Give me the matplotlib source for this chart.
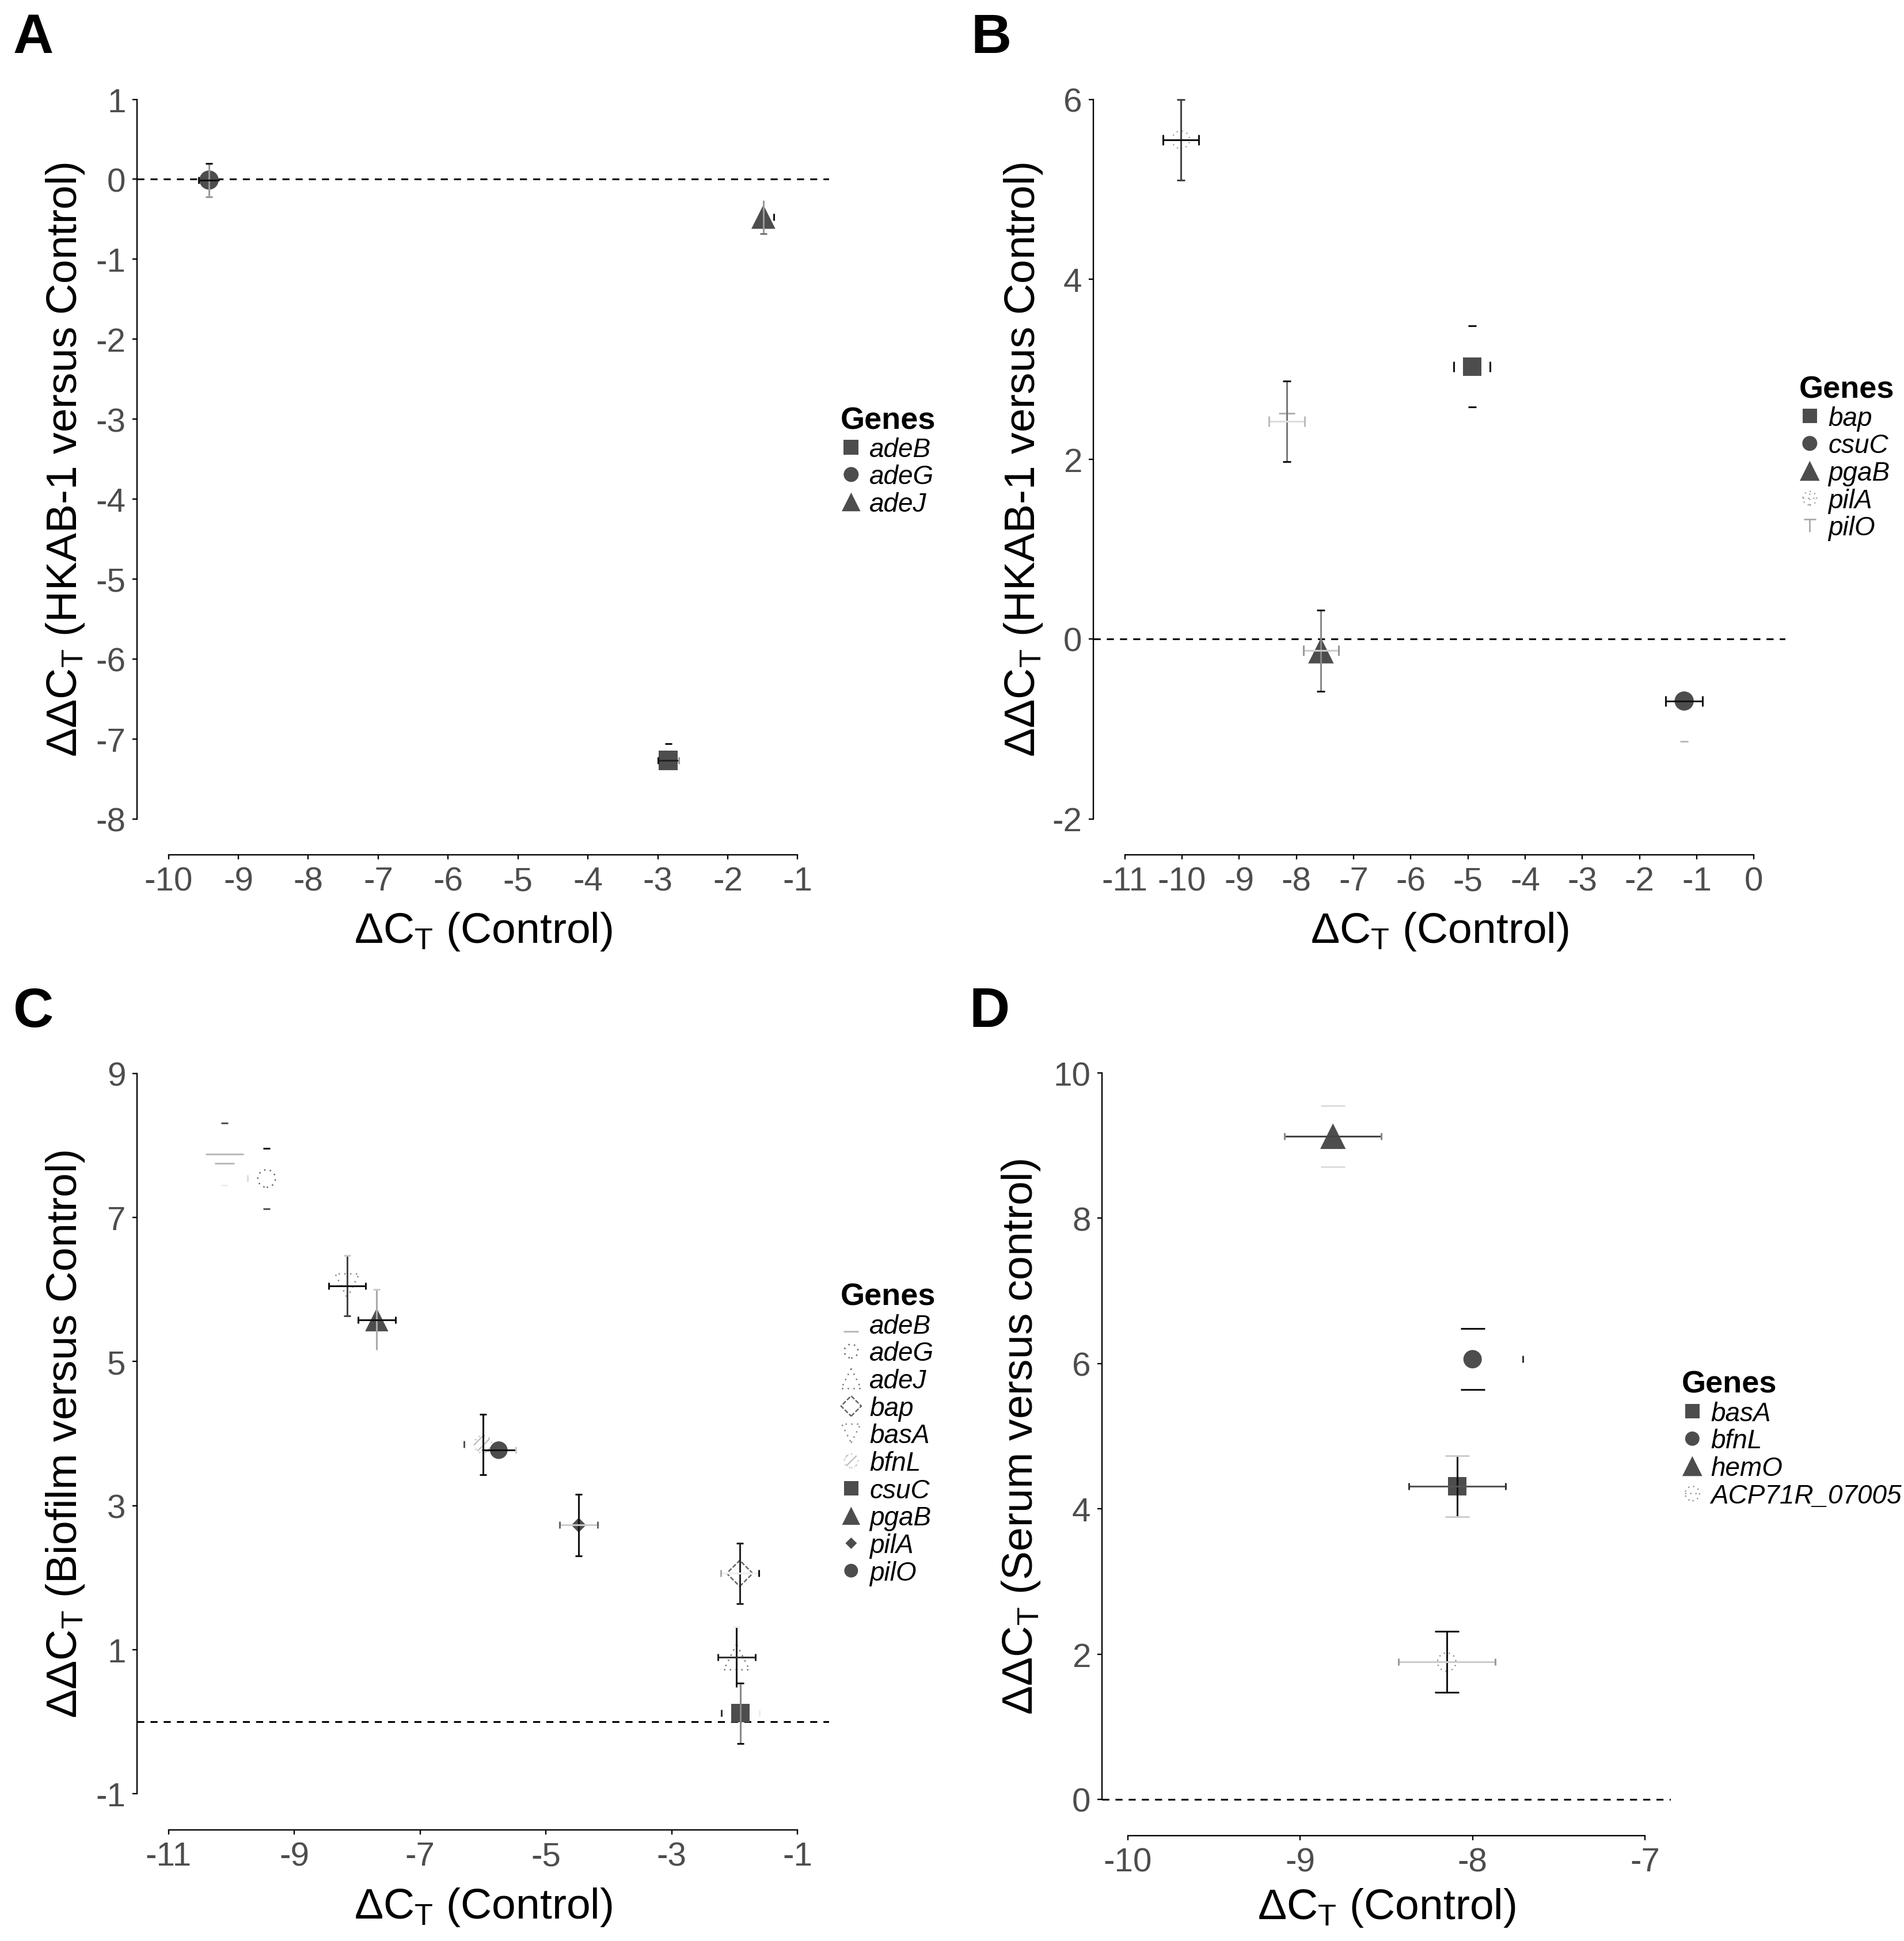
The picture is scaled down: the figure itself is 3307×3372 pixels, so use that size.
import matplotlib
matplotlib.use('Agg')
import matplotlib.pyplot as plt
from matplotlib.path import Path

plt.rcParams['font.family'] = ['Liberation Sans', 'DejaVu Sans']
plt.rcParams['axes.unicode_minus'] = False
plt.rcParams['mathtext.fontset'] = 'custom'
plt.rcParams['mathtext.rm'] = 'Liberation Sans'
plt.rcParams['mathtext.it'] = 'Liberation Sans:italic'
plt.rcParams['mathtext.bf'] = 'Liberation Sans:bold'
plt.rcParams['hatch.linewidth'] = 0.8
plt.rcParams['hatch.color'] = '#bbbbbb'

# ---------------- data ----------------
# Panel A
a_genes = ['adeB', 'adeG', 'adeJ']
a_x = [-2.85, -9.42, -1.49]
a_y = [-7.27, -0.01, -0.47]
a_xerr = [0.15, 0.15, 0.15]
a_yerr = [0.21, 0.21, 0.21]
a_xticks = list(range(-10, 0))
a_yticks = list(range(-8, 2))

# Panel B
b_genes = ['bap', 'csuC', 'pgaB', 'pilA', 'pilO']
b_x = [-4.93, -1.22, -7.57, -10.02, -8.17]
b_y = [3.03, -0.69, -0.13, 5.55, 2.42]
b_xerr = [0.32, 0.32, 0.31, 0.31, 0.31]
b_yerr = [0.45, 0.45, 0.45, 0.45, 0.45]
b_xticks = list(range(-11, 1))
b_yticks = [-2, 0, 2, 4, 6]

# Panel C
c_genes = ['adeB', 'adeG', 'adeJ', 'bap', 'basA', 'bfnL', 'csuC', 'pgaB', 'pilA', 'pilO']
c_x = [-10.11, -9.44, -1.97, -1.92, -8.16, -6.00, -1.91, -7.69, -4.48, -5.75]
c_y = [7.88, 7.54, 0.90, 2.06, 6.05, 3.85, 0.12, 5.58, 2.73, 3.77]
c_xerr = [0.30, 0.30, 0.30, 0.30, 0.29, 0.30, 0.30, 0.30, 0.30, 0.27]
c_yerr = [0.43, 0.42, 0.42, 0.42, 0.42, 0.42, 0.42, 0.42, 0.43, 0.42]
c_xticks = [-11, -9, -7, -5, -3, -1]
c_yticks = [-1, 1, 3, 5, 7, 9]

# Panel D
d_genes = ['basA', 'bfnL', 'hemO', 'ACP71R_07005']
d_x = [-8.09, -8.00, -8.81, -8.15]
d_y = [4.31, 6.06, 9.13, 1.89]
d_xerr = [0.28, 0.29, 0.28, 0.28]
d_yerr = [0.42, 0.42, 0.42, 0.42]
d_xticks = [-10, -9, -8, -7]
d_yticks = [0, 2, 4, 6, 8, 10]

# ---------------- marker shapes ----------------
M, L = Path.MOVETO, Path.LINETO
T_MARK = Path([(-1, 1), (1, 1), (0, 1), (0, -1)], [M, L, M, L])
LOW_BAR = Path([(-1, -1), (1, -1)], [M, L])
CIRCLE_PLUS = Path.make_compound_path(Path.unit_circle(),
                                      Path([(-1, 0), (1, 0)], [M, L]),
                                      Path([(0, -1), (0, 1)], [M, L]))
CIRCLE_DASH = Path.make_compound_path(Path.unit_circle(),
                                      Path([(-1, 0), (1, 0)], [M, L]))
DOT = (0, (1, 3))
FILL = '#4d4d4d'

a_mk = {
    'adeB': dict(marker='s', size=12, fc=FILL),
    'adeG': dict(marker='o', size=12, fc=FILL),
    'adeJ': dict(marker='^', size=15, fc=FILL),
}
b_mk = {
    'bap': dict(marker='s', size=11.5, fc=FILL),
    'csuC': dict(marker='o', size=12, fc=FILL),
    'pgaB': dict(marker='^', size=16, fc=FILL),
    'pilA': dict(marker=CIRCLE_PLUS, size=11, ec='#999999', lw=0.8, ls=DOT),
    'pilO': dict(marker=T_MARK, size=10, ec='#aaaaaa', lw=1.0),
}
c_mk = {
    'adeB': dict(marker=LOW_BAR, size=12, ec='#bbbbbb', lw=1.1),
    'adeG': dict(marker='o', size=11, ec='#666666', lw=0.9, ls=DOT),
    'adeJ': dict(marker='^', size=16, ec='#777777', lw=0.9, ls=DOT),
    'bap': dict(marker='D', size=11.5, ec='#666666', lw=0.9, ls=(0, (3, 1.2))),
    'basA': dict(marker='v', size=15, ec='#888888', lw=0.9, ls=DOT),
    'bfnL': dict(marker='o', size=11, ec='#bbbbbb', lw=0.8, ls=DOT, hatch='////'),
    'csuC': dict(marker='s', size=11.5, fc=FILL),
    'pgaB': dict(marker='^', size=14.5, fc=FILL),
    'pilA': dict(marker='D', size=6.5, fc=FILL),
    'pilO': dict(marker='o', size=11, fc=FILL),
}
d_mk = {
    'basA': dict(marker='s', size=11.5, fc=FILL),
    'bfnL': dict(marker='o', size=11.5, fc=FILL),
    'hemO': dict(marker='^', size=16, fc=FILL),
    'ACP71R_07005': dict(marker=CIRCLE_DASH, size=11.5, ec='#888888', lw=0.8, ls=DOT),
}

# error bar colours: (ybar, ycap_lo, ycap_hi, xbar, xcap_lo, xcap_hi)
K = '#111111'
a_eb = {
    'adeB': (None, None, K, '#222222', K, '#999999'),
    'adeG': ('#999999', '#999999', K, K, K, None),
    'adeJ': ('#999999', '#777777', None, None, None, K),
}
b_eb = {
    'bap': (None, K, K, None, K, K),
    'csuC': (None, '#bbbbbb', None, K, K, K),
    'pgaB': ('#888888', K, K, '#cccccc', '#999999', '#999999'),
    'pilA': ('#444444', '#444444', '#444444', K, K, K),
    'pilO': ('#777777', K, K, '#dddddd', '#bbbbbb', '#bbbbbb'),
}
c_eb = {
    'adeB': (None, '#eeeeee', '#555555', '#bbbbbb', None, None),
    'adeG': (None, '#555555', K, None, '#dddddd', None),
    'adeJ': (K, None, '#eeeeee', '#333333', '#222222', '#222222'),
    'bap': ('#222222', '#222222', '#222222', '#eeeeee', '#aaaaaa', K),
    'basA': ('#444444', '#444444', '#cccccc', K, K, K),
    'bfnL': (K, K, K, None, '#555555', None),
    'csuC': ('#888888', K, K, None, '#333333', '#eeeeee'),
    'pgaB': ('#aaaaaa', None, '#cccccc', K, K, K),
    'pilA': (K, K, K, '#cccccc', '#666666', '#666666'),
    'pilO': (None, None, None, K, None, '#cccccc'),
}
d_eb = {
    'basA': (K, '#cccccc', '#cccccc', '#555555', '#333333', '#333333'),
    'bfnL': (None, K, K, None, None, '#333333'),
    'hemO': (None, '#dddddd', '#dddddd', '#444444', '#888888', '#888888'),
    'ACP71R_07005': (K, K, K, '#cccccc', '#999999', '#999999'),
}

# ---------------- figure ----------------
W, H = 3307, 3373
DPI = 200
fig = plt.figure(figsize=(W / DPI, H / DPI), dpi=DPI)


def px_rect(l, t, r, b):
    return [l / W, 1 - b / H, (r - l) / W, (b - t) / H]


def errbar(ax, x, y, bar, caps, capsize, z, xerr=None, yerr=None):
    c = ax.errorbar([x], [y],
                    xerr=None if xerr is None else [xerr],
                    yerr=None if yerr is None else [yerr],
                    fmt='none', ecolor=bar if bar else 'none',
                    elinewidth=1.1, capsize=capsize, capthick=1.1, zorder=z)
    _, caplines, barcols = c.lines
    for cl, col in zip(caplines, caps):
        if col is None:
            cl.set_visible(False)
        else:
            cl.set_color(col)
            cl.set_markeredgecolor(col)
    if bar is None:
        for bc in barcols:
            bc.set_visible(False)


def panel(rect, genes, xs, ys, xerrs, yerrs, mk, eb, xticks, yticks,
          xlabel, ylabel, xlab_off, ylab_off, ycap, xcap, leg_pos, letter, letter_pos):
    ax = fig.add_axes(px_rect(*rect))
    ax.patch.set_visible(False)
    xr = max(xticks) - min(xticks)
    yr = max(yticks) - min(yticks)
    ax.set_xlim(min(xticks) - 0.05 * xr, max(xticks) + 0.05 * xr)
    ax.set_ylim(min(yticks) - 0.05 * yr, max(yticks) + 0.05 * yr)
    ax.set_xticks(xticks)
    ax.set_yticks(yticks)
    for s in ['top', 'right']:
        ax.spines[s].set_visible(False)
    ax.spines['left'].set_bounds(min(yticks), max(yticks))
    ax.spines['bottom'].set_bounds(min(xticks), max(xticks))
    for s in ['left', 'bottom']:
        ax.spines[s].set_linewidth(0.85)
    ax.tick_params(direction='out', length=3, width=0.85, color='black',
                   labelsize=21, labelcolor='#4d4d4d', pad=4)
    ax.set_xlabel(xlabel, fontsize=27, va='center')
    ax.xaxis.set_label_coords(0.5, xlab_off)
    ax.set_ylabel(ylabel, fontsize=27, va='center')
    ax.yaxis.set_label_coords(ylab_off, 0.5)
    ax.axhline(0, color='black', lw=1.1, ls=(0, (4, 3.5)), zorder=1)

    handles = []
    for i, g in enumerate(genes):
        m = mk[g]
        sc = ax.scatter([xs[i]], [ys[i]], marker=m['marker'], s=m['size'] ** 2,
                        facecolors=m.get('fc', 'none'), edgecolors=m.get('ec', 'none'),
                        linewidths=m.get('lw', 0.0), linestyles=m.get('ls', 'solid'),
                        hatch=m.get('hatch'), zorder=3, label=g)
        handles.append(sc)
    for i, g in enumerate(genes):
        yb, ylo, yhi, xb, xlo, xhi = eb[g]
        errbar(ax, xs[i], ys[i], yb, (ylo, yhi), ycap, 4, yerr=yerrs[i])
        errbar(ax, xs[i], ys[i], xb, (xlo, xhi), xcap, 5, xerr=xerrs[i])

    ax.legend(handles=handles, labels=genes, title='Genes', loc='upper left',
              bbox_to_anchor=(leg_pos[0] / W, 1 - leg_pos[1] / H),
              bbox_transform=fig.transFigure, frameon=False,
              prop={'style': 'italic', 'size': 16.5},
              title_fontproperties={'weight': 'bold', 'size': 19.5},
              alignment='left', markerscale=0.78, handlelength=0.8,
              handletextpad=0.3, labelspacing=0.08, borderpad=0,
              borderaxespad=0, scatterpoints=1, scatteryoffsets=[0.5])
    fig.text(letter_pos[0] / W, 1 - letter_pos[1] / H, letter, fontsize=35,
             fontweight='bold', ha='center', va='center')
    return ax


XL = 'ΔC$_\\mathregular{T}$ (Control)'

panel((238, 111, 1440, 1486), a_genes, a_x, a_y, a_xerr, a_yerr, a_mk, a_eb,
      a_xticks, a_yticks, XL, 'ΔΔC$_\\mathregular{T}$ (HKAB-1 versus Control)',
      -0.0967, (114 - 238) / 1202, 2.3, 2.3, (1460, 706), 'A', (58, 67))

panel((1899, 111, 3101, 1486), b_genes, b_x, b_y, b_xerr, b_yerr, b_mk, b_eb,
      b_xticks, b_yticks, XL, 'ΔΔC$_\\mathregular{T}$ (HKAB-1 versus Control)',
      -0.0967, (1777 - 1899) / 1202, 2.5, 3.4, (3125, 652), 'B', (1722, 67))

panel((238, 1803, 1440, 3180), c_genes, c_x, c_y, c_xerr, c_yerr, c_mk, c_eb,
      c_xticks, c_yticks, XL, 'ΔΔC$_\\mathregular{T}$ (Biofilm versus Control)',
      -0.0966, (114 - 238) / 1202, 2.0, 2.2, (1460, 2229), 'C', (58, 1759))

panel((1914, 1802, 2902, 3190), d_genes, d_x, d_y, d_xerr, d_yerr, d_mk, d_eb,
      d_xticks, d_yticks, XL, 'ΔΔC$_\\mathregular{T}$ (Serum versus control)',
      -0.090, (1774 - 1914) / 988, 7.5, 2.0, (2921, 2381), 'D', (1719, 1759))

fig.savefig('out.png', dpi=DPI)
